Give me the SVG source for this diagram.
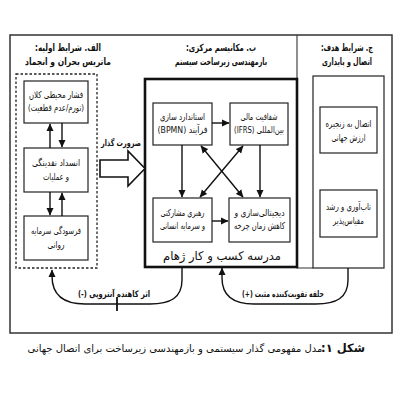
<svg xmlns="http://www.w3.org/2000/svg" width="400" height="400" viewBox="0 0 400 400">
<style>
text{font-family:"DejaVu Sans",sans-serif;fill:#111;text-anchor:middle}
.t{font-size:10px;font-weight:bold}
.b{font-size:9.5px}
.lb{font-size:9px;font-weight:bold}
.box{fill:#fff;stroke:#222;stroke-width:1.2}
.ln{fill:none;stroke:#111;stroke-width:1.4}
</style>
<defs>
<marker id="ah" markerWidth="8" markerHeight="8" refX="7" refY="4" orient="auto-start-reverse" markerUnits="userSpaceOnUse">
<path d="M0,0.5 L7.5,4 L0,7.5 Z" fill="#111"/>
</marker>
</defs>
<rect x="0" y="0" width="400" height="400" fill="#fff"/>
<rect id="frame" x="10" y="35" width="382" height="298" fill="none" stroke="#333" stroke-width="1.5"/>
<path id="divider" d="M297,35 V268 H313" fill="none" stroke="#333" stroke-width="1.1"/>

<g id="titles">
<text class="t" x="68" y="51" textLength="66" lengthAdjust="spacingAndGlyphs">&#x202B;الف. شرایط اولیه:&#x202C;</text>
<text class="t" x="68" y="65" textLength="86" lengthAdjust="spacingAndGlyphs">&#x202B;ماتریس بحران و انجماد&#x202C;</text>
<text class="t" x="221" y="51" textLength="70" lengthAdjust="spacingAndGlyphs">&#x202B;ب. مکانیسم مرکزی:&#x202C;</text>
<text class="t" x="221" y="65" textLength="92" lengthAdjust="spacingAndGlyphs">&#x202B;بازمهندسی زیرساخت سیستم&#x202C;</text>
<text class="t" x="347" y="51" textLength="52" lengthAdjust="spacingAndGlyphs">&#x202B;ج. شرایط هدف:&#x202C;</text>
<text class="t" x="347" y="65" textLength="50" lengthAdjust="spacingAndGlyphs">&#x202B;اتصال و پایداری&#x202C;</text>
</g>

<g id="col-left">
<rect x="16" y="74" width="81" height="194" fill="none" stroke="#222" stroke-width="1.3" stroke-dasharray="2.5,2"/>
</g>
<g id="n-pressure">
<rect class="box" x="24" y="81" width="64" height="42"/>
<text class="b" x="56" y="98" textLength="54" lengthAdjust="spacingAndGlyphs">فشار محیطی کلان</text>
<text class="b" x="56" y="111" textLength="56" lengthAdjust="spacingAndGlyphs">&#x202B;(تورم/عدم قطعیت)&#x202C;</text>
</g>
<g id="n-liquidity">
<rect class="box" x="24" y="148" width="64" height="44"/>
<text class="b" x="56" y="166" textLength="48" lengthAdjust="spacingAndGlyphs">انسداد نقدینگی</text>
<text class="b" x="56" y="180" textLength="26" lengthAdjust="spacingAndGlyphs">و عملیات</text>
</g>
<g id="n-erosion">
<rect class="box" x="24" y="216" width="64" height="44"/>
<text class="b" x="56" y="234" textLength="50" lengthAdjust="spacingAndGlyphs">فرسودگی سرمایه</text>
<text class="b" x="56" y="248" textLength="17" lengthAdjust="spacingAndGlyphs">روانی</text>
</g>

<g id="col-center">
<rect x="145" y="79" width="152" height="188" fill="none" stroke="#111" stroke-width="2.6"/>
<text x="222" y="260" style="font-size:12px" textLength="118" lengthAdjust="spacingAndGlyphs">مدرسه کسب و کار ژهام</text>
</g>
<g id="n-bpmn">
<rect class="box" x="153" y="103" width="59" height="42"/>
<text class="b" x="182.5" y="120" textLength="45" lengthAdjust="spacingAndGlyphs">استاندارد سازی</text>
<text class="b" x="182.5" y="133" textLength="50" lengthAdjust="spacingAndGlyphs">&#x202B;فرآیند (BPMN)&#x202C;</text>
</g>
<g id="n-ifrs">
<rect class="box" x="230" y="103" width="58" height="42"/>
<text class="b" x="259" y="120" textLength="37" lengthAdjust="spacingAndGlyphs">شفافیت مالی</text>
<text class="b" x="259" y="133" textLength="50" lengthAdjust="spacingAndGlyphs">&#x202B;بین‌المللی (IFRS)&#x202C;</text>
</g>
<g id="n-leadership">
<rect class="box" x="153" y="198" width="59" height="44"/>
<text class="b" x="182.5" y="216" textLength="44" lengthAdjust="spacingAndGlyphs">رهبری مشارکتی</text>
<text class="b" x="182.5" y="229" textLength="45" lengthAdjust="spacingAndGlyphs">و سرمایه انسانی</text>
</g>
<g id="n-digital">
<rect class="box" x="229" y="198" width="61" height="44"/>
<text class="b" x="259.5" y="216" textLength="50" lengthAdjust="spacingAndGlyphs">دیجیتالی‌سازی و</text>
<text class="b" x="259.5" y="229" textLength="51" lengthAdjust="spacingAndGlyphs">کاهش زمان چرخه</text>
</g>

<g id="col-right">
<rect x="313" y="76" width="71" height="192" fill="none" stroke="#222" stroke-width="1.2"/>
</g>
<g id="n-gvc">
<rect class="box" x="320" y="107" width="57" height="46"/>
<text class="b" x="348.5" y="127" textLength="46" lengthAdjust="spacingAndGlyphs">اتصال به زنجیره</text>
<text class="b" x="348.5" y="141" textLength="34" lengthAdjust="spacingAndGlyphs">ارزش جهانی</text>
</g>
<g id="n-resilience">
<rect class="box" x="320" y="190" width="57" height="47"/>
<text class="b" x="348.5" y="210" textLength="45" lengthAdjust="spacingAndGlyphs">تاب‌آوری و رشد</text>
<text class="b" x="348.5" y="224" textLength="31" lengthAdjust="spacingAndGlyphs">مقیاس‌پذیر</text>
</g>

<g id="connectors">
<line class="ln" x1="50" y1="148" x2="50" y2="124" marker-end="url(#ah)"/>
<line class="ln" x1="62" y1="123" x2="62" y2="147" marker-end="url(#ah)"/>
<line class="ln" x1="50" y1="192" x2="50" y2="215" marker-end="url(#ah)"/>
<line class="ln" x1="62" y1="216" x2="62" y2="193" marker-end="url(#ah)"/>
<line class="ln" x1="212" y1="123" x2="229" y2="123" marker-end="url(#ah)"/>
<line class="ln" x1="212" y1="221" x2="228" y2="221" marker-end="url(#ah)"/>
<line class="ln" x1="182" y1="145" x2="182" y2="197" marker-end="url(#ah)"/>
<line class="ln" x1="260" y1="145" x2="260" y2="197" marker-end="url(#ah)"/>
<line class="ln" x1="201" y1="146" x2="243" y2="197" marker-start="url(#ah)" marker-end="url(#ah)"/>
<line class="ln" x1="243" y1="146" x2="200" y2="197" marker-start="url(#ah)" marker-end="url(#ah)"/>
<path d="M100,160 L128,160 L128,151 L145,168.5 L128,186 L128,177 L100,177 Z" fill="#fff" stroke="#111" stroke-width="1.6" stroke-linejoin="miter"/>
<text class="lb" x="121" y="146" textLength="40" lengthAdjust="spacingAndGlyphs">ضرورت گذار</text>
<path class="ln" d="M182,267 L182,280 C182,298 170,304 150,304 L85,304 C64,304 52,296 52,276 L52,270" marker-end="url(#ah)"/>
<line x1="117" y1="297" x2="117" y2="311" stroke="#111" stroke-width="1.8"/>
<text class="lb" x="114" y="297" textLength="72" lengthAdjust="spacingAndGlyphs">&#x202B;اثر کاهنده آنتروپی (-)&#x202C;</text>
<path class="ln" d="M348,268 L348,280 C348,298 336,304 316,304 L254,304 C234,304 222,296 222,278 L222,268" marker-end="url(#ah)"/>
<text class="lb" x="283" y="297" textLength="82" lengthAdjust="spacingAndGlyphs">&#x202B;حلقه تقویت‌کننده مثبت (+)&#x202C;</text>
</g>

<g id="caption">
<text x="343" y="352" style="font-size:11.5px;font-weight:bold">&#x202B;شکل ۱:&#x202C;</text>
<text x="175" y="352" style="font-size:10px">مدل مفهومی گذار سیستمی و بازمهندسی زیرساخت برای اتصال جهانی</text>
</g>
</svg>
